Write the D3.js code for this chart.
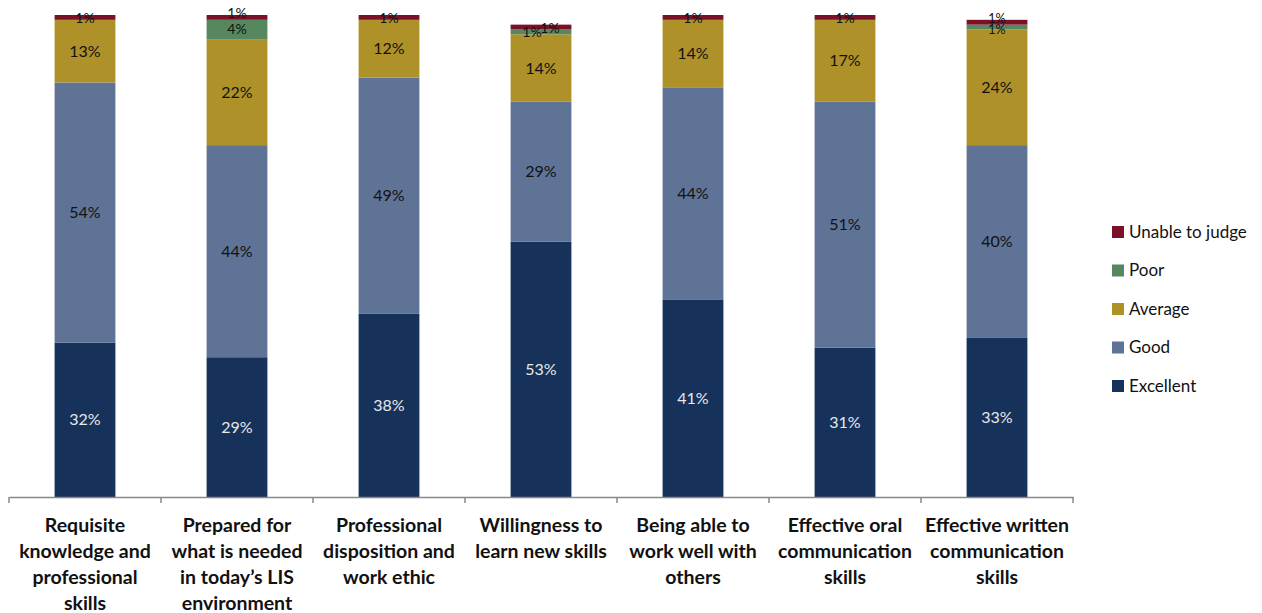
<!DOCTYPE html>
<html><head><meta charset="utf-8">
<script src="https://cdn.jsdelivr.net/npm/d3@7"></script>
<style>body{margin:0;background:#fff}svg{display:block}</style>
</head><body><svg id="c" width="1262" height="613"></svg>
<script>
const categories = [
  ["Requisite","knowledge and","professional","skills"],
  ["Prepared for","what is needed","in today\u2019s LIS","environment"],
  ["Professional","disposition and","work ethic"],
  ["Willingness to","learn new skills"],
  ["Being able to","work well with","others"],
  ["Effective oral","communication","skills"],
  ["Effective written","communication","skills"]
];
const seriesNames = ["Excellent","Good","Average","Poor","Unable to judge"];
const excellent = [32,29,38,53,41,31,33];
const good      = [54,44,49,29,44,51,40];
const average   = [13,22,12,14,14,17,24];
const poor      = [0,4,0,1,0,0,1];
const unable    = [1,1,1,1,1,1,1];
const colors = ["#17325a","#5f7396","#ae9129","#56875e","#7b1129"];
const labelColors = ["#e8e8e8","#111","#111","#111","#111"];

const svg = d3.select("#c");
const font = "Lato, 'Open Sans', sans-serif";
const values = [excellent, good, average, poor, unable];
const idx = d3.range(categories.length);
const x = d3.scaleBand().domain(idx).range([9,1073]).paddingInner(0.6).paddingOuter(0.3);
const y = d3.scaleLinear().domain([0,100]).range([497,15]);

const rows = idx.map(i => { const o = {i}; seriesNames.forEach((s,k)=>o[s]=values[k][i]); return o; });
const stack = d3.stack().keys(seriesNames)(rows);

stack.forEach((layer,k) => {
  const g = svg.append("g");
  g.selectAll("rect").data(layer).join("rect")
    .attr("x", d => x(d.data.i)).attr("width", x.bandwidth())
    .attr("y", d => y(d[1])).attr("height", d => y(d[0]) - y(d[1]))
    .attr("fill", colors[k]);
});
stack.forEach((layer,k) => {
  svg.append("g").selectAll("text").data(layer.filter(d => d[1]-d[0] > 0)).join("text")
    .attr("x", d => {
      let cx = x(d.data.i) + x.bandwidth()/2;
      if (d.data.i === 3 && k === 3) cx -= 9;
      if (d.data.i === 3 && k === 4) cx += 9;
      return cx;
    })
    .attr("y", d => {
      let cy = (y(d[0]) + y(d[1]))/2;
      if (k === 4 && d.data.i === 1) cy -= 4;
      else if (k === 4 && d.data.i === 6) cy -= 3.5;
      else if (k === 3 && d.data.i === 6) cy += 3;
      else if (k === 4) cy += 1;
      return cy;
    })
    .attr("dy","0.35em").attr("text-anchor","middle")
    .attr("font-family", font).attr("font-size", d => k>=3 ? (d.data.i === 6 ? 12.5 : 14) : 16)
    .attr("fill", labelColors[k])
    .text(d => (d[1]-d[0]) + "%");
});

// axis
const axis = d3.axisBottom(x).tickSize(0).tickFormat("");
const ag = svg.append("g").attr("transform","translate(0,497)").call(axis);
ag.select(".domain").attr("stroke","#888").attr("stroke-width",1.5);
const step = x.step();
const bounds = d3.range(categories.length+1).map(j => 9 + j*step);
ag.selectAll(".bt").data(bounds).join("line").attr("class","bt")
  .attr("x1", d=>d).attr("x2", d=>d).attr("y1",0).attr("y2",6)
  .attr("stroke","#888").attr("stroke-width",1.5);

// category labels
idx.forEach(i => {
  const t = svg.append("text").attr("x", x(i)+x.bandwidth()/2).attr("y", 532)
    .attr("text-anchor","middle").attr("font-family", font).attr("font-weight","bold")
    .attr("font-size",19.5).attr("fill","#111");
  categories[i].forEach((line,j) => t.append("tspan").attr("x", x(i)+x.bandwidth()/2).attr("dy", j===0?0:26).text(line));
});

// legend
const legendOrder = seriesNames.slice().reverse();
const lg = svg.append("g");
legendOrder.forEach((s,j) => {
  const yy = 232 + j*38.5;
  lg.append("rect").attr("x",1112).attr("y",yy-6).attr("width",12).attr("height",12)
    .attr("fill", colors[seriesNames.indexOf(s)]);
  lg.append("text").attr("x",1129).attr("y",yy).attr("dy","0.35em")
    .attr("font-family",font).attr("font-size",17).attr("fill","#111").text(s);
});
</script></body></html>
